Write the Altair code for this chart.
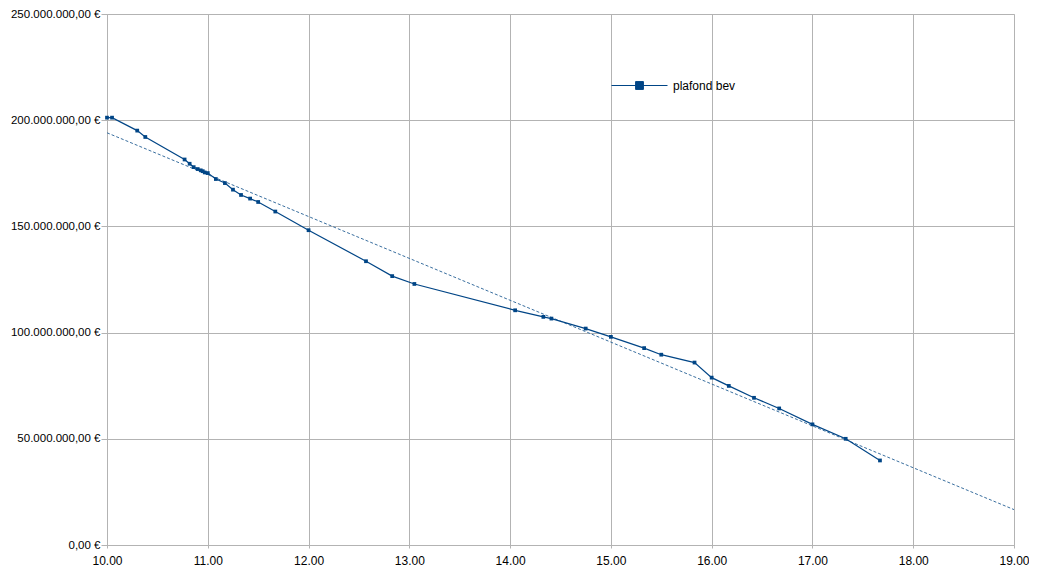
import altair as alt
import pandas as pd

# Data
x_vals = [10.00, 10.05, 10.30, 10.38, 10.77, 10.82, 10.86, 10.90, 10.93, 10.95, 10.97, 11.00,
          11.08, 11.17, 11.25, 11.33, 11.42, 11.50, 11.67, 12.00, 12.57, 12.83, 13.05,
          14.05, 14.33, 14.41, 14.75, 15.00, 15.33, 15.50, 15.83, 16.00, 16.17, 16.42,
          16.67, 17.00, 17.33, 17.67]
y_millions = [201.2, 201.2, 195.1, 192.1, 181.5, 179.5, 177.9, 177.0, 176.4, 176.0, 175.4, 175.1,
              172.3, 170.4, 167.3, 164.8, 163.1, 161.5, 157.0, 148.2, 133.6, 126.6, 122.9,
              110.5, 107.4, 106.6, 101.9, 98.0, 92.7, 89.6, 85.9, 78.8, 74.9, 69.3,
              64.3, 56.8, 50.0, 39.8]
series_name = "plafond bev"
x_ticks = [10, 11, 12, 13, 14, 15, 16, 17, 18, 19]
y_ticks = [0, 50e6, 100e6, 150e6, 200e6, 250e6]

df = pd.DataFrame({
    "x": x_vals,
    "y": [v * 1e6 for v in y_millions],
    "serie": [series_name] * len(x_vals),
})

FONT = "Liberation Sans"
GRID = "#b3b3b3"
LINE = "#004586"

x_enc = alt.X(
    "x:Q",
    scale=alt.Scale(domain=[10, 19], nice=False, zero=False),
    axis=alt.Axis(values=x_ticks, format=".2f", title=None, grid=True, labelFlush=False,
                  gridColor=GRID, domainColor=GRID, tickColor=GRID, tickSize=3,
                  labelPadding=7, labelFont=FONT, labelFontSize=12, labelColor="#000"),
)
y_enc = alt.Y(
    "y:Q",
    scale=alt.Scale(domain=[0, 250e6], nice=False),
    axis=alt.Axis(values=y_ticks, title=None, grid=True, labelFlush=False,
                  labelExpr="replace(format(datum.value, ','), regexp(',', 'g'), '.') + ',00 €'",
                  gridColor=GRID, domainColor=GRID, tickColor=GRID, tickSize=6,
                  labelPadding=1, labelFont=FONT, labelFontSize=11.5, labelColor="#000"),
)

legend_path = "M-1,0L1,0M-0.14,-0.14L0.14,-0.14L0.14,0.14L-0.14,0.14Z"

line = alt.Chart(df).mark_line(
    strokeWidth=1.2,
    point=alt.OverlayMarkDef(shape="square", filled=True, size=14, color=LINE),
).encode(
    x=x_enc,
    y=y_enc,
    color=alt.Color(
        "serie:N",
        scale=alt.Scale(domain=[series_name], range=[LINE]),
        legend=alt.Legend(
            title=None, orient="none", legendX=504, legendY=43, padding=0,
            symbolType=legend_path, symbolSize=3136, symbolStrokeWidth=1,
            symbolFillColor=LINE, symbolStrokeColor=LINE, symbolOpacity=1,
            labelFont=FONT, labelFontSize=12, labelColor="#000", labelOffset=5,
        ),
    ),
)

trend = alt.Chart(df).transform_regression(
    "x", "y", extent=[10, 19]
).mark_line(strokeWidth=1, strokeDash=[3, 2], color="#3a6f9f").encode(
    x="x:Q", y="y:Q"
)

chart = alt.layer(trend, line).properties(
    width=907,
    height=531,
    padding={"left": 99, "top": 6, "right": 15, "bottom": 25},
    autosize=alt.AutoSizeParams(type="none"),
).configure_view(stroke=None).configure(background="white")

chart.save("out.html", embed_options={"renderer": "svg", "actions": False})
